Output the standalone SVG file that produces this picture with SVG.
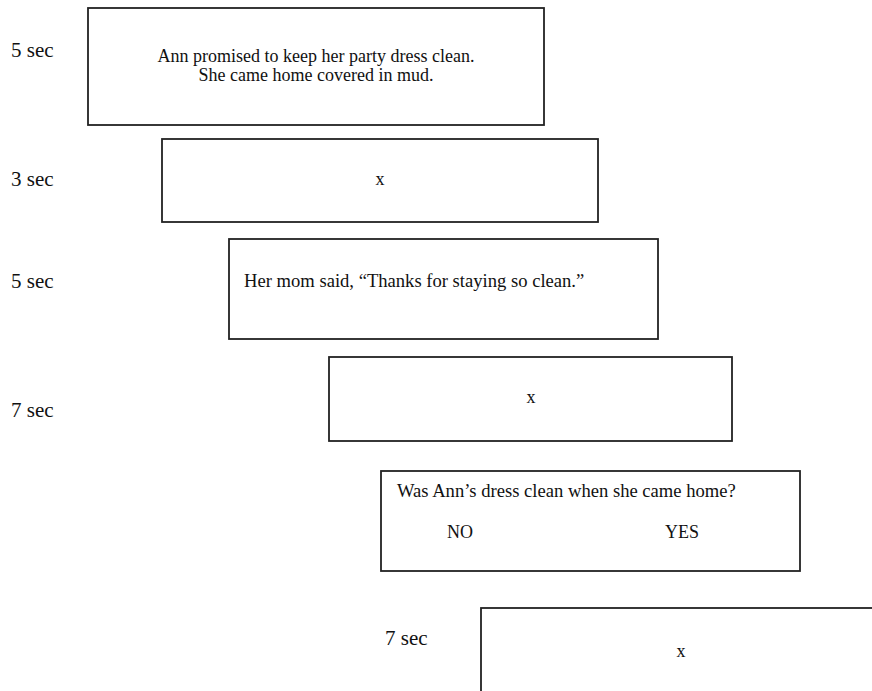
<svg xmlns="http://www.w3.org/2000/svg" width="872" height="691" viewBox="0 0 872 691">
<style>
.box{fill:#fff;stroke:#222;stroke-width:1.8}
.t{font-family:"Liberation Serif","Times New Roman",serif;font-size:18px;fill:#111}
.t2{font-size:18.6px}
.lbl{font-family:"Liberation Serif","Times New Roman",serif;font-size:21px;fill:#111}
.c{text-anchor:middle}
</style>
<rect width="872" height="691" fill="#fff"/>
<g id="connectors"></g>
<g id="label1"><text class="lbl" x="11" y="57">5 sec</text></g>
<g id="screen1">
<rect class="box" x="88" y="8" width="456" height="117"/>
<text class="t c" x="316" y="62">Ann promised to keep her party dress clean.</text>
<text class="t c" x="316" y="81">She came home covered in mud.</text>
</g>
<g id="label2"><text class="lbl" x="11" y="186">3 sec</text></g>
<g id="screen2">
<rect class="box" x="162" y="139" width="436" height="83"/>
<text class="t c" x="380" y="185">x</text>
</g>
<g id="label3"><text class="lbl" x="11" y="288">5 sec</text></g>
<g id="screen3">
<rect class="box" x="229" y="239" width="429" height="100"/>
<text class="t t2" x="244" y="287">Her mom said, “Thanks for staying so clean.”</text>
</g>
<g id="label4"><text class="lbl" x="11" y="417">7 sec</text></g>
<g id="screen4">
<rect class="box" x="329" y="357" width="403" height="84"/>
<text class="t c" x="531" y="403">x</text>
</g>
<g id="screen5">
<rect class="box" x="381" y="471" width="419" height="100"/>
<text class="t t2" x="397" y="497">Was Ann’s dress clean when she came home?</text>
<text class="t" x="447" y="538">NO</text>
<text class="t" x="665" y="538">YES</text>
</g>
<g id="label6"><text class="lbl" x="385" y="645">7 sec</text></g>
<g id="screen6">
<rect class="box" x="481" y="608" width="430" height="120"/>
<text class="t c" x="681" y="657">x</text>
</g>
</svg>
